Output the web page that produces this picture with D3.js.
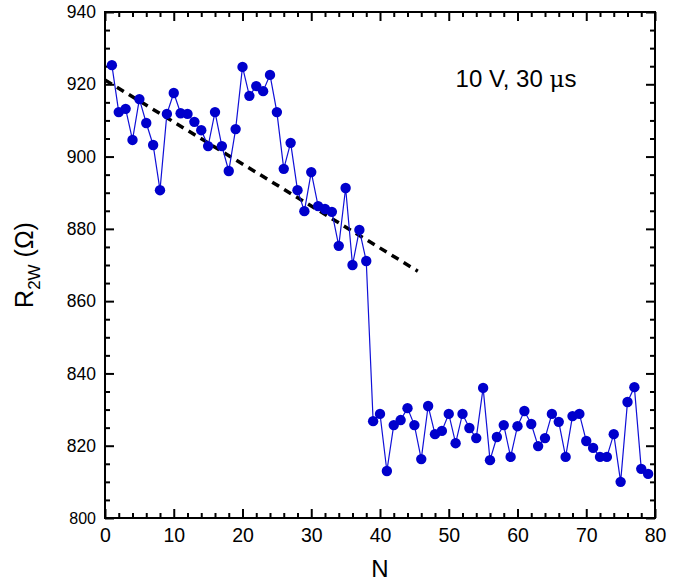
<!DOCTYPE html>
<html>
<head>
<meta charset="utf-8">
<script src="https://cdn.jsdelivr.net/npm/d3@7"></script>
<style>
  body { margin: 0; background: #fff; }
  text { font-family: "Liberation Sans", Arial, sans-serif; fill: #000; }
</style>
</head>
<body>
<div id="chart"></div>
<script>
// R_2W vs N chart

const nValues = d3.range(1, 80);
const resistance = [
    925.3, 912.3, 913.2, 904.6, 915.9, 909.3, 903.2, 890.7, 911.8, 917.6,
    912.0, 911.8, 909.6, 907.3, 902.9, 912.3, 902.9, 896.0, 907.6, 924.8,
    916.8, 919.5, 918.1, 922.6, 912.3, 896.6, 903.8, 890.7, 884.9, 895.7,
    886.3, 885.5, 884.7, 875.3, 891.3, 870.0, 879.7, 871.1, 826.8, 828.8,
    813.0, 825.7, 827.1, 830.4, 825.7, 816.3, 831.0, 823.2, 824.1, 828.8,
    820.7, 828.8, 824.9, 822.1, 836.0, 816.0, 822.4, 825.7, 816.9, 825.4,
    829.6, 826.0, 819.9, 822.1, 828.8, 826.6, 816.9, 828.2, 828.8, 821.3,
    819.4, 816.9, 816.9, 823.2, 810.0, 832.1, 836.2, 813.6, 812.2
];
const fitX = [0, 45.5];
const fitY = [921.2, 868.3];
const xTicks = [0, 10, 20, 30, 40, 50, 60, 70, 80];
const yTicks = [800, 820, 840, 860, 880, 900, 920, 940];

const width = 681, height = 582;
const margin = { top: 12, right: 26, bottom: 64, left: 105 };
const innerW = width - margin.left - margin.right;
const innerH = height - margin.top - margin.bottom;

const svg = d3.select("#chart").append("svg")
    .attr("width", width)
    .attr("height", height);

const g = svg.append("g")
    .attr("transform", `translate(${margin.left},${margin.top})`);

const x = d3.scaleLinear().domain([0, 80]).range([0, innerW]);
const y = d3.scaleLinear().domain([800, 940]).range([innerH, 0]);

const xMinor = d3.range(0, 81, 2).filter(v => v % 10 !== 0);
const yMinor = d3.range(800, 941, 5).filter(v => v % 20 !== 0);

function drawAxis(axisFn, scale, major, minor, transform, labels) {
    const gMaj = g.append("g")
        .attr("transform", transform)
        .call(axisFn(scale).tickValues(major).tickSizeInner(-9).tickSizeOuter(0)
            .tickFormat(labels ? d3.format("d") : ""));
    const gMin = g.append("g")
        .attr("transform", transform)
        .call(axisFn(scale).tickValues(minor).tickSizeInner(-5).tickSizeOuter(0).tickFormat(""));
    [gMaj, gMin].forEach(a => {
        a.select(".domain").remove();
        a.selectAll(".tick line").attr("stroke", "#000").attr("stroke-width", 2);
    });
    return gMaj;
}

const bottomAx = drawAxis(d3.axisBottom, x, xTicks, xMinor, `translate(0,${innerH})`, true);
bottomAx.selectAll(".tick text")
    .attr("dy", "0.71em").attr("y", 10)
    .style("font-size", "19.5px");
drawAxis(d3.axisTop, x, xTicks, xMinor, "translate(0,0)", false);
const leftAx = drawAxis(d3.axisLeft, y, yTicks, yMinor, "translate(0,0)", true);
leftAx.selectAll(".tick text")
    .attr("x", -9)
    .style("font-size", d => d === 800 ? "16px" : "17.5px");
drawAxis(d3.axisRight, y, yTicks, yMinor, `translate(${innerW},0)`, false);

g.append("rect")
    .attr("width", innerW)
    .attr("height", innerH)
    .attr("fill", "none")
    .attr("stroke", "#000")
    .attr("stroke-width", 2);

// fit line
g.append("line")
    .attr("x1", x(fitX[0])).attr("y1", y(fitY[0]))
    .attr("x2", x(fitX[1])).attr("y2", y(fitY[1]))
    .attr("stroke", "#000")
    .attr("stroke-width", 3.5)
    .attr("stroke-dasharray", "8,6");

const pts = nValues.map((n, i) => ({ n: n, r: resistance[i] }));

g.append("path")
    .datum(pts)
    .attr("fill", "none")
    .attr("stroke", "#1010d8")
    .attr("stroke-width", 1.2)
    .attr("d", d3.line().x(d => x(d.n)).y(d => y(d.r)));

g.selectAll("circle.pt")
    .data(pts)
    .enter()
    .append("circle")
    .attr("class", "pt")
    .attr("cx", d => x(d.n))
    .attr("cy", d => y(d.r))
    .attr("r", 5.2)
    .attr("fill", "#0000cc");

// labels
svg.append("text")
    .attr("x", margin.left + innerW / 2)
    .attr("y", 577)
    .attr("text-anchor", "middle")
    .style("font-size", "24px")
    .text("N");

const yLab = svg.append("text")
    .attr("transform", `translate(33,${margin.top + innerH / 2}) rotate(-90)`)
    .attr("text-anchor", "middle")
    .style("font-size", "25px");
yLab.append("tspan").text("R");
yLab.append("tspan").attr("dy", 7).style("font-size", "17px").text("2W");
yLab.append("tspan").attr("dy", -7).text(" (Ω)");

const note = svg.append("text")
    .attr("x", 516)
    .attr("y", 87)
    .attr("text-anchor", "middle")
    .style("font-size", "24px");
note.append("tspan").text("10 V, 30 ");
note.append("tspan").style("font-family", "'DejaVu Serif', serif").style("font-size", "23px").text("μ");
note.append("tspan").text("s");
</script>
</body>
</html>
